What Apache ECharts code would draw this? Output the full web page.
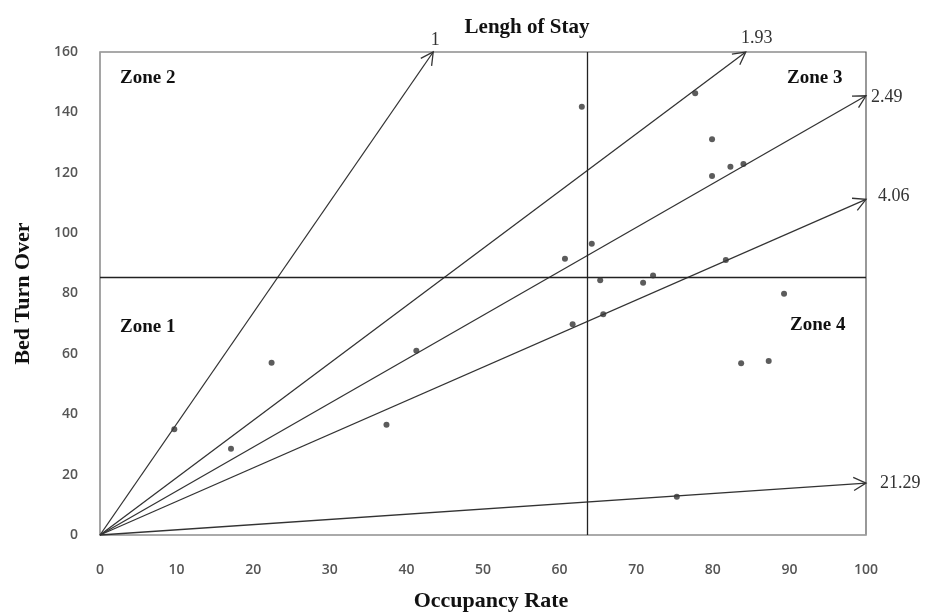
<!DOCTYPE html>
<html>
<head>
<meta charset="utf-8">
<script src="https://cdn.jsdelivr.net/npm/echarts@6/dist/echarts.min.js"></script>
<style>
html,body{margin:0;padding:0;background:#fff;}
#chart{width:925px;height:614px;}
</style>
</head>
<body>
<div id="chart"></div>
<script>
// ---- data ----
const occupancyRate = [9.7, 17.1, 22.4, 37.4, 41.3, 62.9, 77.7, 79.9, 79.9, 82.3, 84.0, 64.2, 60.7, 65.3, 70.9, 72.2, 81.7, 89.3, 61.7, 65.7, 83.7, 87.3, 75.3];
const bedTurnOver   = [35.0, 28.6, 57.1, 36.5, 61.0, 141.9, 146.3, 131.1, 118.9, 122.0, 122.9, 96.5, 91.5, 84.4, 83.6, 86.0, 91.1, 79.9, 69.8, 73.1, 56.9, 57.6, 12.7];
const losLabels = ['1', '1.93', '2.49', '4.06', '21.29'];
const losEndX   = [43.5, 84.3, 100, 100, 100];
const losEndY   = [160, 160, 145.5, 111.2, 17.2];
const meanOccupancy = 63.6;
const meanTurnOver  = 85.4;
const zoneNames = ['Zone 1', 'Zone 2', 'Zone 3', 'Zone 4'];
const titleText = 'Lengh of Stay';
const xName = 'Occupancy Rate';
const yName = 'Bed Turn Over';

// ---- layout (not data) ----
const labelOffsets = [[2, -12, 'center'], [11, -14, 'center'], [5, 1, 'left'], [12, -3, 'left'], [14, 0, 'left']];
const zonePos = [[120, 327], [120, 78], [787, 78], [790, 325]];
const SERIF = '"Liberation Serif", "Times New Roman", serif';
const tickLabel = { fontFamily: '"Open Sans", sans-serif', fontSize: 14, fontWeight: 600, color: '#555' };

const chart = echarts.init(document.getElementById('chart'));

const option = {
  backgroundColor: '#fff',
  animation: false,
  grid: { left: 100, right: 59, top: 52, bottom: 79, show: true, borderColor: '#555', borderWidth: 1.2, backgroundColor: 'transparent' },
  xAxis: {
    type: 'value', min: 0, max: 100, interval: 10,
    axisLine: { show: true, lineStyle: { color: '#aaa', width: 1.5 } },
    axisTick: { show: false },
    splitLine: { show: false },
    axisLabel: Object.assign({ margin: 28 }, tickLabel)
  },
  yAxis: {
    type: 'value', min: 0, max: 160, interval: 20,
    name: yName, nameLocation: 'middle', nameGap: 66,
    nameTextStyle: { fontFamily: SERIF, fontWeight: 'bold', fontSize: 22, color: '#111' },
    axisLine: { show: true, lineStyle: { color: '#aaa', width: 1.5 } },
    axisTick: { show: false },
    splitLine: { show: false },
    axisLabel: Object.assign({ margin: 22 }, tickLabel)
  },
  graphic: [
    { type: 'text', x: 527, y: 28, style: { text: titleText, font: 'bold 21px ' + SERIF, fill: '#111', textAlign: 'center', textVerticalAlign: 'middle' } },
    { type: 'text', x: 491, y: 601, style: { text: xName, font: 'bold 22px ' + SERIF, fill: '#111', textAlign: 'center', textVerticalAlign: 'middle' } }
  ].concat(zoneNames.map((z, i) => ({
    type: 'text', x: zonePos[i][0], y: zonePos[i][1],
    style: { text: z, font: 'bold 19px ' + SERIF, fill: '#111', textVerticalAlign: 'middle' }
  }))),
  series: [
    {
      type: 'custom',
      coordinateSystem: 'cartesian2d',
      silent: true,
      data: losEndX.map((x, i) => [x, losEndY[i], i]),
      renderItem: function (params, api) {
        const s = api.coord([0, 0]);
        const e = api.coord([api.value(0), api.value(1)]);
        const i = api.value(2);
        const th = Math.atan2(e[1] - s[1], e[0] - s[0]);
        const L = 14, phi = 28 * Math.PI / 180;
        const p1 = [e[0] - L * Math.cos(th - phi), e[1] - L * Math.sin(th - phi)];
        const p2 = [e[0] - L * Math.cos(th + phi), e[1] - L * Math.sin(th + phi)];
        const off = labelOffsets[i];
        return {
          type: 'group',
          children: [
            { type: 'line', shape: { x1: s[0], y1: s[1], x2: e[0], y2: e[1] }, style: { stroke: '#333', lineWidth: 1.3 } },
            { type: 'polyline', shape: { points: [p1, e, p2] }, style: { stroke: '#333', lineWidth: 1.3, fill: null } },
            { type: 'text', style: { text: losLabels[i], x: e[0] + off[0], y: e[1] + off[1], textAlign: off[2], textVerticalAlign: 'middle', font: '18px ' + SERIF, fill: '#333' } }
          ]
        };
      },
      z: 2
    },
    {
      type: 'scatter',
      data: occupancyRate.map((x, i) => [x, bedTurnOver[i]]),
      symbolSize: 6,
      itemStyle: { color: '#333' },
      z: 5,
      markLine: {
        silent: true,
        symbol: 'none',
        label: { show: false },
        lineStyle: { color: '#222', type: 'solid', width: 1.3 },
        data: [{ xAxis: meanOccupancy }, { yAxis: meanTurnOver }]
      }
    }
  ]
};
chart.setOption(option);
</script>
</body>
</html>
